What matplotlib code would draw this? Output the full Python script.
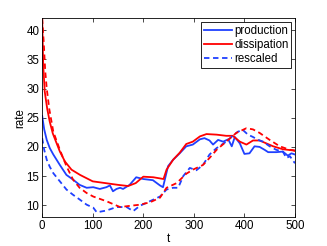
import matplotlib
matplotlib.use("Agg")
import matplotlib.pyplot as plt

plt.rcParams["font.family"] = ["Liberation Sans", "DejaVu Sans"]
plt.rcParams["font.size"] = 8.3

# production (solid blue)
t_prod = [0, 4, 9, 15, 22, 35, 48, 61, 74, 88, 101, 114, 127, 134, 140, 147, 154,
          160, 173, 186, 200, 219, 233, 239, 249, 259, 272, 285, 298, 312, 321,
          331, 338, 348, 358, 368, 375, 381, 391, 400, 410, 420, 430, 440, 447,
          463, 476, 486, 493, 500]
production = [25.3, 23.0, 21.2, 19.8, 18.7, 16.9, 15.2, 14.4, 13.5, 13.0, 13.1,
              12.8, 13.1, 13.4, 12.4, 12.8, 13.0, 12.8, 13.5, 14.8, 14.5, 14.3,
              13.4, 13.1, 16.7, 17.8, 18.9, 20.1, 20.4, 21.3, 21.5, 21.1, 20.4,
              21.2, 20.9, 21.3, 20.1, 21.7, 20.6, 18.8, 18.9, 20.1, 20.0, 19.5,
              19.1, 19.1, 19.2, 18.5, 18.9, 18.7]

# dissipation (solid red)
t_diss = [0, 2, 5, 10, 15, 21, 30, 35, 45, 58, 75, 100, 125, 150, 170, 185,
          200, 220, 240, 246, 259, 272, 285, 298, 312, 325, 345, 364, 377, 391,
          404, 417, 430, 457, 476, 496, 500]
dissipation = [42.0, 34.0, 29.5, 26.5, 24.3, 22.3, 20.3, 19.2, 17.5, 16.1, 15.2,
               14.1, 13.8, 13.5, 13.3, 13.8, 14.9, 14.8, 14.5, 16.1, 17.8, 19.0,
               20.5, 20.9, 21.8, 22.2, 22.1, 21.9, 21.9, 20.9, 20.4, 21.1, 21.1,
               20.1, 19.6, 19.4, 19.3]

# rescaled production (dashed blue)
t_resc_p = [0, 4, 9, 15, 22, 35, 48, 61, 74, 88, 101, 108, 127, 147, 167, 180,
            193, 213, 233, 246, 259, 269, 279, 292, 305, 318, 331, 345, 364,
            377, 387, 397, 407, 417, 427, 437, 450, 463, 476, 483, 490, 500]
rescaled_p = [21.5, 19.5, 17.8, 16.6, 15.5, 14.1, 12.7, 11.8, 11.0, 10.1, 9.6,
              8.8, 9.1, 9.7, 9.7, 9.0, 9.9, 10.7, 11.5, 12.7, 13.0, 13.0, 15.0,
              16.4, 16.0, 16.9, 18.7, 19.8, 20.9, 21.9, 22.6, 22.9, 22.1, 21.7,
              21.2, 20.9, 20.1, 19.5, 19.2, 18.1, 18.4, 17.2]

# rescaled dissipation (dashed red)
t_resc_d = [0, 3, 6, 9, 14, 22, 35, 48, 61, 74, 88, 101, 127, 154, 173, 193,
            213, 233, 246, 266, 285, 298, 318, 331, 345, 364, 384, 404, 417,
            430, 450, 470, 490, 500]
rescaled_d = [42.0, 38.0, 33.0, 30.0, 26.5, 22.6, 19.5, 16.7, 14.4, 13.0, 12.1,
              11.5, 10.7, 9.7, 9.9, 10.1, 10.5, 11.3, 13.0, 13.8, 15.4, 16.1,
              16.9, 18.1, 19.5, 20.9, 22.4, 23.2, 23.0, 22.4, 21.2, 20.1, 19.5,
              19.4]

fig = plt.figure(figsize=(3.27, 2.46), dpi=100)
ax = fig.add_axes([0.129, 0.118, 0.773, 0.807])

blue = (0.12, 0.25, 1.0)
red = (1.0, 0.0, 0.0)
lw = 1.3

ax.plot(t_prod, production, color=blue, lw=lw, label="production")
ax.plot(t_diss, dissipation, color=red, lw=lw, label="dissipation")
ax.plot(t_resc_p, rescaled_p, color=blue, lw=lw, ls=(0, (3, 2)), label="rescaled")
ax.plot(t_resc_d, rescaled_d, color=red, lw=lw, ls=(0, (3, 2)))

ax.set_xlim(0, 500)
ax.set_ylim(8, 42)
ax.set_xticks([0, 100, 200, 300, 400, 500])
ax.set_yticks([10, 15, 20, 25, 30, 35, 40])
ax.tick_params(direction="in", top=True, right=True, length=3, width=0.5, pad=2)
for s in ax.spines.values():
    s.set_linewidth(0.6)
ax.set_xlabel("t", labelpad=1)
ax.set_ylabel("rate", labelpad=0)

leg = ax.legend(loc="upper right", fancybox=False, framealpha=1,
                edgecolor="black", handlelength=2.4, handletextpad=0.2,
                borderpad=0.25, labelspacing=0.2, borderaxespad=0.3)
leg.get_frame().set_linewidth(0.6)

fig.savefig("out.png", dpi=100)
